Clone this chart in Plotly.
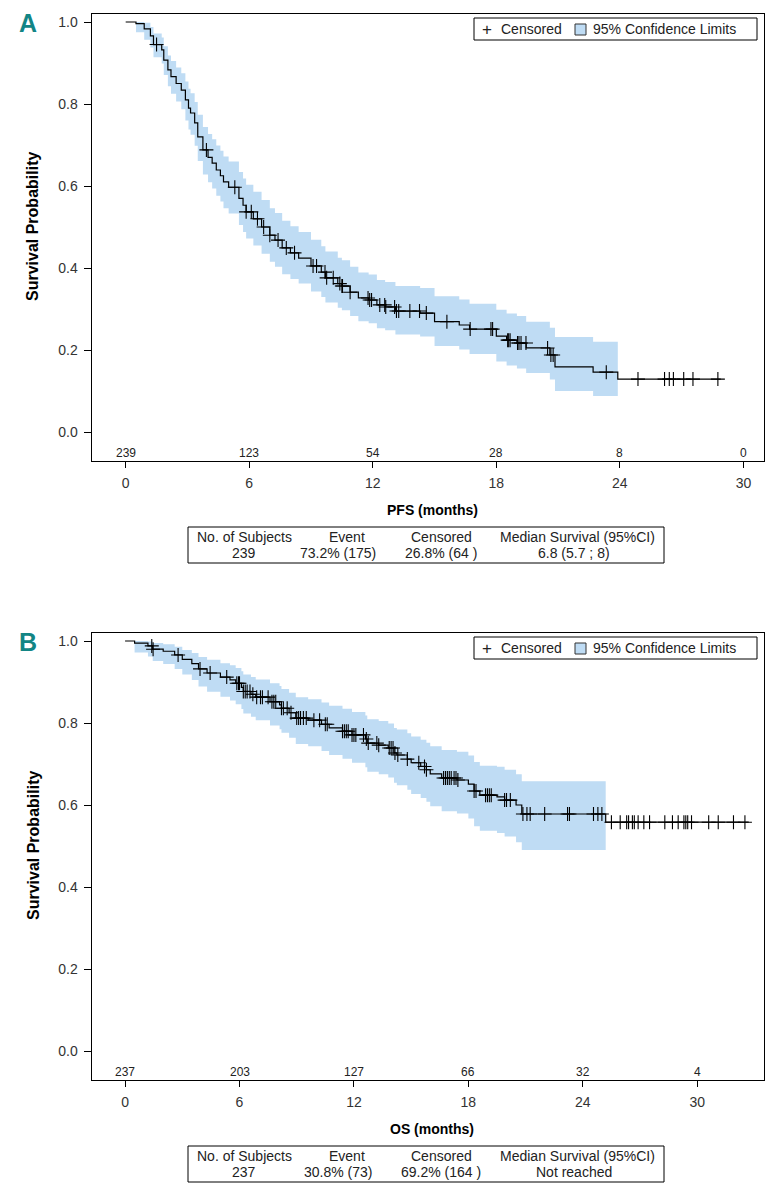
import numpy as np
import plotly.graph_objects as go

# page body has an 8px margin: the figure is drawn from (8, 8) of the window
OX, OY = 8, 8
W, H = 776 - OX, 1194 - OY
FONT = "Liberation Sans, Arial, sans-serif"


def px(x):
    return (x - OX) / W


def py(y):
    return 1 - (y - OY) / H


# ---------------- Panel A : PFS ----------------
pfs_time = [0, 0.5, 0.9, 1.2, 1.35, 1.75, 1.85, 2.05, 2.2, 2.45, 2.7, 2.9, 3.05, 3.15, 3.35,
            3.5, 3.75, 4.0, 4.2, 4.4, 4.6, 4.75, 5.0, 5.5, 5.7, 5.85, 6.2, 6.6, 7.0, 7.25,
            7.6, 8.0, 8.4, 9.0, 9.5, 9.7, 10.3, 10.5, 10.9, 11.3, 11.8, 12.2, 12.6, 13.1,
            14.3, 15.0, 16.2, 16.7, 18.0, 18.5, 19.0, 19.45, 20.6, 20.85, 22.7, 23.9]
pfs_surv = [1.0, 0.996, 0.983, 0.966, 0.945, 0.932, 0.907, 0.883, 0.867, 0.85, 0.834, 0.81,
            0.79, 0.778, 0.754, 0.72, 0.688, 0.67, 0.656, 0.639, 0.625, 0.61, 0.597, 0.57,
            0.553, 0.537, 0.52, 0.5, 0.48, 0.468, 0.449, 0.437, 0.424, 0.405, 0.39, 0.376,
            0.362, 0.356, 0.341, 0.327, 0.322, 0.31, 0.305, 0.295, 0.29, 0.269, 0.261, 0.251,
            0.234, 0.224, 0.217, 0.205, 0.188, 0.159, 0.146, 0.129]
pfs_lower = [1.0, 0.975, 0.957, 0.938, 0.914, 0.899, 0.871, 0.843, 0.825, 0.806, 0.787, 0.76,
             0.738, 0.725, 0.698, 0.661, 0.628, 0.609, 0.594, 0.576, 0.562, 0.546, 0.533, 0.505,
             0.488, 0.472, 0.455, 0.435, 0.415, 0.403, 0.385, 0.373, 0.362, 0.343, 0.329, 0.316,
             0.303, 0.297, 0.283, 0.27, 0.265, 0.253, 0.248, 0.238, 0.233, 0.21, 0.201, 0.19,
             0.172, 0.162, 0.155, 0.144, 0.128, 0.1, 0.088]
pfs_upper = [1.0, 1.0, 0.998, 0.988, 0.972, 0.962, 0.941, 0.918, 0.905, 0.889, 0.875, 0.855,
             0.837, 0.826, 0.805, 0.774, 0.744, 0.727, 0.714, 0.699, 0.686, 0.672, 0.66, 0.634,
             0.618, 0.603, 0.586, 0.566, 0.546, 0.534, 0.515, 0.502, 0.488, 0.469, 0.453, 0.44,
             0.425, 0.419, 0.403, 0.389, 0.384, 0.371, 0.366, 0.356, 0.351, 0.331, 0.323, 0.313,
             0.298, 0.289, 0.283, 0.269, 0.254, 0.232, 0.22]
pfs_end = 28.9
pfs_censor = [1.5, 3.92, 5.3, 5.85, 6.1, 6.4, 6.7, 7.0, 7.4, 7.8, 8.2, 9.1, 9.27, 9.68, 9.76,
              10.08, 10.4, 10.5, 10.53, 10.9, 11.77, 11.85, 11.94, 12.34, 12.58, 12.63, 13.06,
              13.15, 13.26, 13.8, 14.27, 14.6, 15.6, 16.73, 17.74, 17.82, 18.55, 18.6, 18.67,
              19.03, 19.1, 19.2, 19.44, 20.49, 20.65, 20.76, 23.34, 24.88, 26.17, 26.4, 26.6,
              27.1, 27.55, 28.76]
pfs_risk_times = [0, 6, 12, 18, 24, 30]
pfs_at_risk = ["239", "123", "54", "28", "8", "0"]
pfs_table = ["239", "73.2% (175)", "26.8% (64 )", "6.8 (5.7 ; 8)"]

# ---------------- Panel B : OS ----------------
os_time = [0, 0.5, 1.2, 1.45, 2.0, 2.6, 3.0, 3.5, 3.85, 4.3, 5.0, 5.5, 5.8, 6.1, 6.2, 6.6, 6.85,
           7.6, 8.1, 8.2, 8.6, 8.95, 9.6, 10.3, 10.7, 11.4, 11.9, 12.6, 12.7, 13.3, 13.8, 14.1,
           14.25, 14.8, 15.0, 15.5, 15.8, 16.0, 16.6, 17.4, 18.0, 18.3, 18.6, 19.5, 19.9, 20.5,
           20.8, 25.2]
os_surv = [1.0, 0.995, 0.988, 0.98, 0.975, 0.966, 0.955, 0.945, 0.932, 0.922, 0.912, 0.905,
           0.897, 0.887, 0.877, 0.87, 0.863, 0.852, 0.844, 0.836, 0.825, 0.812, 0.807, 0.797,
           0.788, 0.78, 0.771, 0.761, 0.751, 0.746, 0.739, 0.727, 0.722, 0.712, 0.703, 0.694,
           0.686, 0.676, 0.666, 0.661, 0.651, 0.634, 0.624, 0.62, 0.612, 0.6, 0.578, 0.558]
os_lower = [1.0, 0.972, 0.962, 0.951, 0.944, 0.932, 0.918, 0.905, 0.889, 0.876, 0.864, 0.855,
            0.846, 0.834, 0.823, 0.815, 0.807, 0.794, 0.785, 0.776, 0.764, 0.749, 0.743, 0.732,
            0.722, 0.713, 0.703, 0.692, 0.681, 0.675, 0.667, 0.654, 0.648, 0.637, 0.627, 0.617,
            0.608, 0.597, 0.585, 0.579, 0.567, 0.548, 0.537, 0.532, 0.523, 0.509, 0.49]
os_upper = [1.0, 1.0, 0.999, 0.995, 0.992, 0.986, 0.978, 0.971, 0.961, 0.954, 0.946, 0.941,
            0.934, 0.926, 0.918, 0.912, 0.906, 0.897, 0.89, 0.883, 0.874, 0.863, 0.858, 0.85,
            0.842, 0.835, 0.827, 0.818, 0.809, 0.805, 0.799, 0.788, 0.784, 0.775, 0.767, 0.759,
            0.752, 0.743, 0.734, 0.73, 0.721, 0.705, 0.696, 0.693, 0.686, 0.675, 0.658]
os_end = 32.7
os_censor = [1.4, 1.47, 2.78, 3.93, 4.46, 5.33, 5.86, 5.95, 6.0, 6.2, 6.3, 6.4, 6.55, 6.7, 6.9,
             7.1, 7.2, 7.5, 7.7, 7.8, 7.9, 8.2, 8.3, 8.5, 8.7, 9.0, 9.1, 9.2, 9.35, 9.5, 9.9,
             10.2, 10.5, 10.6, 11.4, 11.5, 11.6, 11.7, 11.9, 12.0, 12.1, 12.5, 12.65, 12.75,
             13.2, 13.3, 13.85, 13.95, 14.05, 14.15, 14.3, 14.8, 15.4, 15.7, 15.8, 16.7, 16.8,
             16.9, 17.0, 17.1, 17.25, 17.35, 17.45, 18.3, 18.4, 18.9, 19.0, 19.1, 19.2, 19.9,
             20.0, 20.2, 20.86, 21.07, 21.24, 22.0, 23.2, 23.3, 24.56, 24.79, 25.0, 25.5, 25.96,
             26.3, 26.4, 26.6, 26.7, 26.9, 27.2, 27.5, 28.3, 28.7, 29.0, 29.3, 29.4, 29.5, 29.7,
             30.6, 31.1, 31.9, 32.5]
os_risk_times = [0, 6, 12, 18, 24, 30]
os_at_risk = ["237", "203", "127", "66", "32", "4"]
os_table = ["237", "30.8% (73)", "69.2% (164 )", "Not reached"]

table_header = ["No. of Subjects", "Event", "Censored", "Median Survival (95%CI)"]
legend_labels = ["Censored", "95% Confidence Limits"]
xticks = [0, 6, 12, 18, 24, 30]
yticks = [0.0, 0.2, 0.4, 0.6, 0.8, 1.0]

BAND = "#bfdcf4"
TXT = "#222"
fig = go.Figure()


def add_panel(xa, ya, t, s, lo, hi, end, cens):
    t = list(t)
    fig.add_trace(go.Scatter(x=t, y=list(lo) + [lo[-1]], mode="lines", line=dict(width=0, shape="hv"),
                             hoverinfo="skip", showlegend=False, xaxis=xa, yaxis=ya))
    fig.add_trace(go.Scatter(x=t, y=list(hi) + [hi[-1]], mode="lines", line=dict(width=0, shape="hv"),
                             fill="tonexty", fillcolor=BAND, hoverinfo="skip", showlegend=False,
                             xaxis=xa, yaxis=ya))
    fig.add_trace(go.Scatter(x=t + [end], y=list(s) + [s[-1]], mode="lines",
                             line=dict(color="black", width=1.2, shape="hv"),
                             showlegend=False, xaxis=xa, yaxis=ya))
    idx = np.searchsorted(np.array(t), np.array(cens), side="right") - 1
    cy = [s[i] for i in idx]
    fig.add_trace(go.Scatter(x=cens, y=cy, mode="markers",
                             marker=dict(symbol="cross-thin", size=10, line=dict(width=1.1, color="black")),
                             showlegend=False, xaxis=xa, yaxis=ya))


add_panel("x", "y", pfs_time, pfs_surv, pfs_lower, pfs_upper, pfs_end, pfs_censor)
add_panel("x2", "y2", os_time, os_surv, os_lower, os_upper, os_end, os_censor)

axis_common = dict(showline=True, mirror=True, linecolor="black", linewidth=1, showgrid=False,
                   zeroline=False, ticks="outside", tickcolor="black",
                   tickfont=dict(family=FONT, size=14, color="#333"))

XL, XR = 91.5, 764
fig.update_layout(
    width=W, height=H, margin=dict(l=0, r=0, t=0, b=0),
    paper_bgcolor="white", plot_bgcolor="white",
    font=dict(family=FONT, color="black"), showlegend=False,
    xaxis=dict(domain=[px(XL), px(XR)], anchor="y", range=[-1.66, 31.0], tickvals=xticks,
               ticklen=6, ticklabelstandoff=3, **axis_common),
    yaxis=dict(domain=[py(461), py(14)], anchor="x", range=[-0.0707, 1.0195],
               tickvals=yticks, tickformat=".1f", ticklen=7, ticklabelstandoff=3, **axis_common),
    xaxis2=dict(domain=[px(XL), px(XR)], anchor="y2", range=[-1.76, 33.5], tickvals=xticks,
                ticklen=6, ticklabelstandoff=3, **axis_common),
    yaxis2=dict(domain=[py(461 + 619), py(14 + 619)], anchor="x2", range=[-0.0707, 1.0195],
                tickvals=yticks, tickformat=".1f", ticklen=7, ticklabelstandoff=3, **axis_common),
)

ann = []
shapes = []


def A(text, x, y, size, color=TXT, xanchor="center", **kw):
    d = dict(text=text, x=px(x), y=py(y), xref="paper", yref="paper", showarrow=False,
             xanchor=xanchor, yanchor="middle", font=dict(family=FONT, size=size, color=color))
    d.update(kw)
    ann.append(d)


def panel_text(label, dy, xtitle, risk_t, risk, xref, table_vals):
    A("<b>%s</b>" % label, 28, 23 + dy, 25, color="#138585")
    A("<b>Survival Probability</b>", 33, 227 + dy, 16, color="black", textangle=-90)
    A("<b>%s</b>" % xtitle, 432, 510 + dy, 14, color="black")
    for t, r in zip(risk_t, risk):
        ann.append(dict(text=r, x=t, xref=xref, y=py(453 + dy), yref="paper", showarrow=False,
                        xanchor="center", yanchor="middle", font=dict(family=FONT, size=12, color=TXT)))
    # legend box
    shapes.append(dict(type="rect", xref="paper", yref="paper", x0=px(474), x1=px(757),
                       y0=py(18 + dy), y1=py(40 + dy), line=dict(color="black", width=1),
                       fillcolor="white"))
    A("+", 487, 29 + dy, 17)
    A(legend_labels[0], 499, 29 + dy, 14, xanchor="left")
    shapes.append(dict(type="rect", xref="paper", yref="paper", x0=px(575), x1=px(586),
                       y0=py(24 + dy), y1=py(35 + dy), line=dict(color="#333", width=1),
                       fillcolor=BAND))
    A(legend_labels[1], 591, 29 + dy, 14, xanchor="left")
    # summary table
    hdr_x = [244, 347, 441, 577]
    val_x = [244, 338, 441, 574]
    for hx, vx, h_, v in zip(hdr_x, val_x, table_header, table_vals):
        A(h_, hx, 537 + dy, 14)
        A(v, vx, 553 + dy, 14)
    shapes.append(dict(type="rect", xref="paper", yref="paper", x0=px(188), x1=px(664),
                       y0=py(527 + dy), y1=py(563 + dy), line=dict(color="black", width=1)))


panel_text("A", 0, "PFS (months)", pfs_risk_times, pfs_at_risk, "x", pfs_table)
panel_text("B", 619, "OS (months)", os_risk_times, os_at_risk, "x2", os_table)

fig.update_layout(annotations=ann, shapes=shapes)
fig.write_html("out.html")
